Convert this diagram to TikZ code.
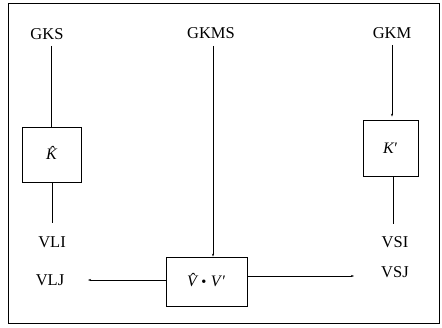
\documentclass[tikz,border=0pt]{standalone}
\usepackage{fontspec}
\setmainfont{Liberation Serif}
\usetikzlibrary{arrows.meta}
% italic symbol with a circumflex set above it
\newcommand{\hatsym}[1]{\leavevmode\hbox{\ooalign{\itshape #1\cr\hidewidth\raisebox{0.12em}{\itshape\char"02C6}\hidewidth\cr}}}
\begin{document}
\begin{tikzpicture}[x=1pt,y=1pt,
  lbl/.style={font=\fontsize{16.5}{18}\selectfont, inner sep=0pt},
  blk/.style={draw, line width=0.8pt, minimum width=#1, inner sep=0pt,
    font=\fontsize{16}{18}\selectfont},
  wire/.style={line width=0.45pt},
  tip/.style={wire, -{Stealth[length=3pt,width=2pt]}}]
\useasboundingbox (0,0) rectangle (442,327);
\draw[line width=0.9pt] (8,4) rectangle (439,324);
% signal labels
\node[lbl] (gks)  at (47,293) {GKS};
\node[lbl] (gkms) at (211,294) {GKMS};
\node[lbl] (gkm)  at (392,294) {GKM};
\node[lbl] (vli)  at (52,85) {VLI};
\node[lbl] (vlj)  at (50,47) {VLJ};
\node[lbl] (vsi)  at (395,85) {VSI};
\node[lbl] (vsj)  at (395,55) {VSJ};
% blocks
\node[blk=59pt, minimum height=55pt] (kh) at (51.5,172.5) {\hatsym{K}};
\node[blk=55pt, minimum height=56pt] (kp) at (390.5,179) {\textit{K}′};
\node[blk=81pt, minimum height=49pt] (vv) at (206.5,45.5) {\hatsym{V}\;\raisebox{0.02em}{\scalebox{0.9}{•}}\;\textit{V}′};
% free ends of the output lines
\coordinate (vlji) at (88,47);
\coordinate (vsji) at (354,51);
\coordinate (vlio) at (52,104);
\coordinate (vsio) at (393,103);
\coordinate (gkso) at (51,281);
\coordinate (gkmso) at (213,281);
\coordinate (gkmo) at (392,282);
% connections
\draw[line width=0.9pt] (gkso) -- (kh.north -| gkso);
\draw[wire] (kh.south -| vlio) -- (vlio);
\draw[tip] (gkmso) -- (vv.north -| gkmso);
\draw[tip] (gkmo) -- ([yshift=3pt]kp.north -| gkmo);
\draw[wire] (kp.south -| vsio) -- (vsio);
\draw[tip] (vv.west |- vlji) -- (vlji);
\draw[tip] (vv.east |- vsji) -- (vsji);
\end{tikzpicture}
\end{document}
